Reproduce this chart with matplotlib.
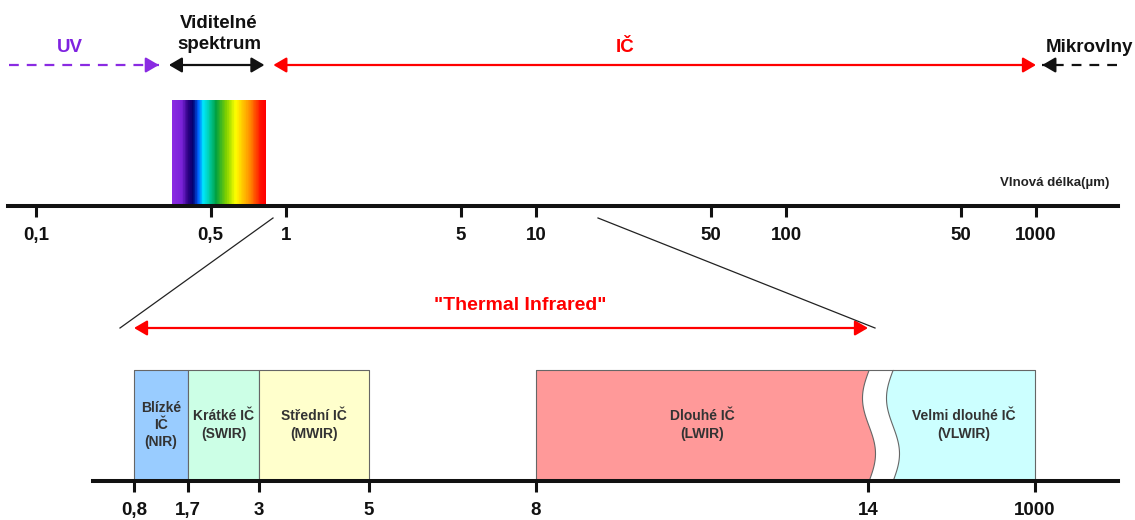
import numpy as np
import matplotlib
matplotlib.use('Agg')
import matplotlib.pyplot as plt
from matplotlib.colors import LinearSegmentedColormap
from matplotlib.ticker import FixedLocator, NullLocator

plt.rcParams['font.family'] = ['Liberation Sans', 'DejaVu Sans']
plt.rcParams['font.weight'] = 'bold'

# Horní osa - vlnová délka v µm (logaritmicky)
top_ticks = [0.1, 0.5, 1, 5, 10, 50, 100, 500, 1000]
top_labels = ['0,1', '0,5', '1', '5', '10', '50', '100', '50', '1000']

# Oblasti spektra (µm)
uv_range = (0.078, 0.31)
vis_range = (0.34, 0.82)
ir_range = (0.89, 1000)
micro_range = (2100, 1060)
spectrum_range = (0.35, 0.83)

# Dolní osa - dělení IČ oblasti
bot_ticks = [0.8, 1.7, 3, 5, 8, 14, 1000]
bot_labels = ['0,8', '1,7', '3', '5', '8', '14', '1000']
band_names = ['Blízké\nIČ\n(NIR)', 'Krátké IČ\n(SWIR)', 'Střední IČ\n(MWIR)',
              'Dlouhé IČ\n(LWIR)', 'Velmi dlouhé IČ\n(VLWIR)']
band_lo = [0.8, 1.7, 3, 8, 14]
band_hi = [1.7, 3, 5, 14, 1000]
band_colors = ['#99CCFF', '#CCFFE6', '#FFFFCC', '#FF9999', '#CCFFFF']
thermal_range = (0.8, 14)

W, H = 1135, 520
fig = plt.figure(figsize=(W / 100, H / 100), dpi=100)

# ---------- horní osa ----------
ax = fig.add_axes([8 / W, (H - 206) / H, 1110 / W, 206 / H], facecolor='none')
ax.set_xscale('log')
ax.set_xlim(10 ** ((8 - 286) / 250), 10 ** ((1118 - 286) / 250))
ax.set_ylim(206, 0)
for s in ['left', 'right', 'top']:
    ax.spines[s].set_visible(False)
ax.spines['bottom'].set_linewidth(2.9)
ax.spines['bottom'].set_color('#111111')
ax.xaxis.set_major_locator(FixedLocator(top_ticks))
ax.xaxis.set_minor_locator(NullLocator())
ax.set_xticklabels(top_labels)
ax.tick_params(axis='x', length=8, width=2.2, pad=7, labelsize=13.5,
               color='#111111', labelcolor='#111111')
ax.tick_params(axis='y', left=False, labelleft=False)

# viditelné spektrum - barevný přechod
cmap = LinearSegmentedColormap.from_list('vis', [
    (0.0, '#8a2be2'), (0.10, '#7a22d8'), (0.17, '#2a0080'), (0.22, '#000070'),
    (0.28, '#0060ff'), (0.33, '#00e8ff'), (0.39, '#00d0b0'), (0.47, '#00a040'),
    (0.58, '#80d000'), (0.68, '#ffff00'), (0.83, '#ff9000'), (0.95, '#ff1000'),
    (1.0, '#ff0000')])
xe = np.geomspace(spectrum_range[0], spectrum_range[1], 150)
ax.pcolormesh(xe, [100, 206], np.linspace(0, 1, 149)[None, :], cmap=cmap,
              shading='flat', zorder=1)

y_arr = 65
head = 'head_length=0.65,head_width=0.38'


def dashed_arrow(a, b, color):
    ax.plot([a, b], [y_arr, y_arr], color=color, lw=1.6, dashes=(4.4, 3.6),
            solid_capstyle='butt', dash_capstyle='butt')
    back = 0.89 if b > a else 1 / 0.89
    ax.annotate('', xy=(b, y_arr), xytext=(b * back, y_arr),
                arrowprops=dict(arrowstyle='-|>,' + head, mutation_scale=12,
                                lw=1.6, color=color, shrinkA=0, shrinkB=0))


def double_arrow(a, b, color):
    ax.annotate('', xy=(b, y_arr), xytext=(a, y_arr),
                arrowprops=dict(arrowstyle='<|-|>,' + head, mutation_scale=12,
                                lw=1.6, color=color, shrinkA=0, shrinkB=0))


dashed_arrow(uv_range[0], uv_range[1], '#8a2be2')
double_arrow(vis_range[0], vis_range[1], '#111111')
double_arrow(ir_range[0], ir_range[1], '#ff0000')
dashed_arrow(micro_range[0], micro_range[1], '#111111')

# ---------- dolní osa ----------
bot_pix = [93] + [134, 188, 259, 369, 536, 868, 1035] + [1118]
bot_val = [0.5] + bot_ticks + [2000]


def fwd(v):
    return np.interp(v, bot_val, bot_pix)


def inv(p):
    return np.interp(p, bot_pix, bot_val)


bx = fig.add_axes([93 / W, (H - 481) / H, (1118 - 93) / W, (481 - 290) / H],
                  facecolor='none')
bx.set_xscale('function', functions=(fwd, inv))
bx.set_xlim(0.5, 2000)
bx.set_ylim(481, 290)
for s in ['left', 'right', 'top']:
    bx.spines[s].set_visible(False)
bx.spines['bottom'].set_linewidth(2.9)
bx.spines['bottom'].set_color('#111111')
bx.spines['bottom'].set_zorder(5)
bx.xaxis.set_major_locator(FixedLocator(bot_ticks))
bx.xaxis.set_minor_locator(NullLocator())
bx.set_xticklabels(bot_labels)
bx.tick_params(axis='x', length=8, width=2.2, pad=7, labelsize=13.5,
               color='#111111', labelcolor='#111111')
bx.tick_params(axis='y', left=False, labelleft=False)

bar_top, bar_bot = 370, 481
yy = np.linspace(bar_top, bar_bot, 80)
t = (yy - bar_top) / (bar_bot - bar_top)
wave_px = fwd(14) + 0.5 - 6.5 * np.sin(2 * np.pi * t)
wave_l = inv(wave_px)
wave_r = inv(wave_px + 24)

for i, name in enumerate(band_names):
    x1 = np.full_like(yy, band_lo[i])
    x2 = np.full_like(yy, band_hi[i])
    if i == 3:
        x2 = wave_l
    if i == 4:
        x1 = wave_r
    bx.fill_betweenx(yy, x1, x2, facecolor=band_colors[i], edgecolor='#666666',
                     lw=0.8, zorder=2)
    xm = inv((fwd(x1[0]) + fwd(x2[0])) / 2)
    bx.text(xm, 425, name, ha='center', va='center', fontsize=10,
            color='#333333', linespacing=1.3, zorder=3)
# horní hrana přes mezeru
bx.plot([wave_l[0], wave_r[0]], [bar_top, bar_top], color='#666666', lw=0.8,
        zorder=2)

# "Thermal Infrared"
bx.annotate('', xy=(thermal_range[1], 328), xytext=(thermal_range[0], 328),
            arrowprops=dict(arrowstyle='<|-|>,' + head, mutation_scale=12,
                            lw=1.6, color='#ff0000', shrinkA=0, shrinkB=0))

# ---------- popisky a spojovací čáry ----------
ov = fig.add_axes([0, 0, 1, 1], facecolor='none')
ov.set_xlim(0, W)
ov.set_ylim(H, 0)
ov.axis('off')

ov.plot([273, 120], [218, 328], color='#222222', lw=0.9)
ov.plot([598, 875], [218, 328], color='#222222', lw=0.9)

ov.text(70, 47, 'UV', color='#7f22e0', fontsize=13.5, ha='center', va='center')
ov.text(219, 34, 'Viditelné\nspektrum', color='#111111', fontsize=13.5,
        ha='center', va='center', linespacing=1.3)
ov.text(625, 47, 'IČ', color='#ff0000', fontsize=13.5, ha='center', va='center')
ov.text(1089, 47, 'Mikrovlny', color='#111111', fontsize=13.5, ha='center',
        va='center')
ov.text(1109, 183, 'Vlnová délka(µm)', color='#222222', fontsize=9.5,
        ha='right', va='center')
ov.text(520, 305, '"Thermal Infrared"', color='#ff0000', fontsize=14,
        ha='center', va='center')

fig.savefig('out.png', dpi=100)
